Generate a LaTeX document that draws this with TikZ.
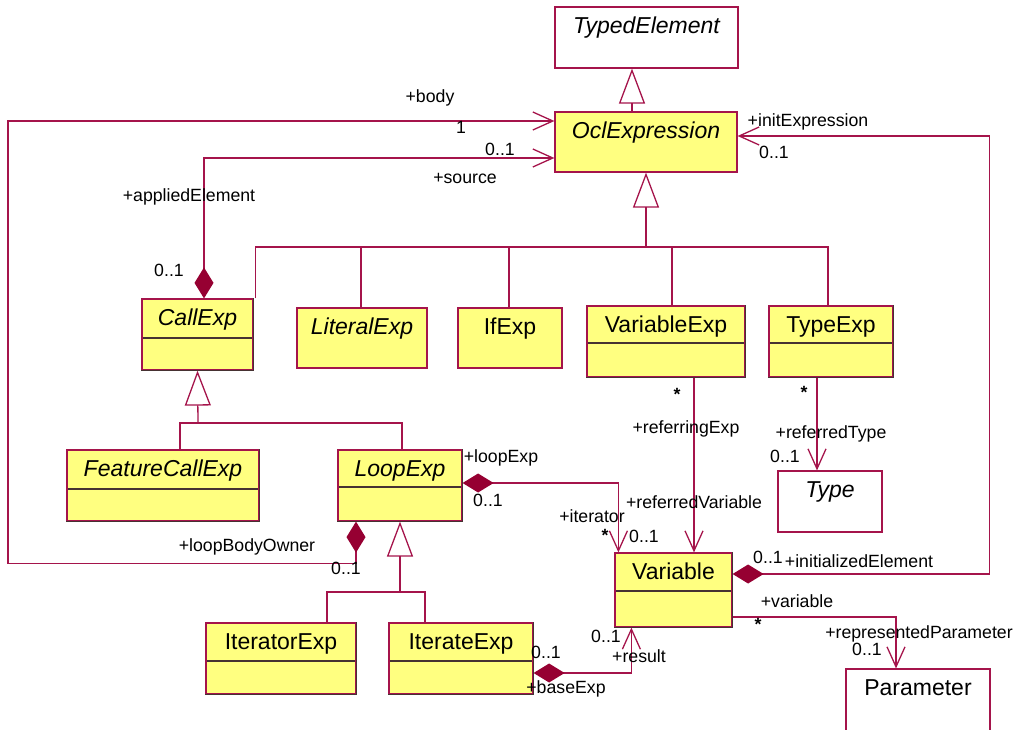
\documentclass[tikz,border=0pt]{standalone}
\usepackage{fontspec}
\setmainfont{Liberation Sans}
\usetikzlibrary{arrows.meta}
\definecolor{umlred}{RGB}{165,20,75}
\definecolor{umldark}{RGB}{150,0,50}
\definecolor{classyellow}{RGB}{255,255,128}
\definecolor{divcol}{RGB}{70,50,50}
\newcommand\clsfont{\fontsize{23}{27}\selectfont}
\newcommand\rolefont{\fontsize{17.7}{20}\selectfont}

\begin{document}
\begin{tikzpicture}[x=1pt, y=-1pt,
  cls/.style={rectangle, draw=umlred, line width=1.2pt, fill=classyellow, inner sep=0pt},
  plain/.style={fill=white},
  cmp/.style={path picture={\draw[divcol, line width=1.2pt]
      ([yshift=-#1]path picture bounding box.north west) -- ([yshift=-#1]path picture bounding box.north east);}},
  cname/.style={label={[anchor=base, yshift=-27pt, font=\clsfont]north:#1}},
  iname/.style={label={[anchor=base, yshift=-27pt, font=\clsfont\itshape]north:#1}},
  role/.style={anchor=base, inner sep=0pt, font=\rolefont},
  genline/.style={line width=1.3pt, umlred},
  gen/.style={genline, -{Triangle[open, length=35pt, width=26pt]}},
  assoc/.style={line width=1.3pt, umlred, line join=miter},
  owns/.style={assoc, {Diamond[length=31pt, width=19pt, color=umldark]}-{Straight Barb[length=20pt, width=18pt]}},
  nav/.style={assoc, -{Straight Barb[length=20pt, width=18pt]}},
  shadeedge/.style={divcol, line width=1.2pt}]
  \useasboundingbox (0,0) rectangle (1017,730);

  % classes
  \node[cls, plain, minimum width=183pt, minimum height=61pt, iname=TypedElement] (TypedElement) at (646.5,37.5) {};
  \node[cls, minimum width=182pt, minimum height=60pt, iname=OclExpression] (OclExpression) at (646,142) {};
  \node[cls, cmp=39pt, minimum width=111pt, minimum height=71pt, iname=CallExp] (CallExp) at (197.5,334.5) {};
  \node[cls, minimum width=130pt, minimum height=60pt, iname=LiteralExp] (LiteralExp) at (362,338) {};
  \node[cls, minimum width=104pt, minimum height=60pt, cname=IfExp] (IfExp) at (510,338) {};
  \node[cls, cmp=37pt, minimum width=158pt, minimum height=71pt, cname=VariableExp] (VariableExp) at (666,341.5) {};
  \node[cls, cmp=37pt, minimum width=124pt, minimum height=71pt, cname=TypeExp] (TypeExp) at (831,341.5) {};
  \node[cls, cmp=39pt, minimum width=192pt, minimum height=71pt, iname=FeatureCallExp] (FeatureCallExp) at (163,485.5) {};
  \node[cls, cmp=37pt, minimum width=124pt, minimum height=71pt, iname=LoopExp] (LoopExp) at (400,485.5) {};
  \node[cls, cmp=38pt, minimum width=150pt, minimum height=71pt, cname=IteratorExp] (IteratorExp) at (281,658.5) {};
  \node[cls, cmp=38pt, minimum width=144pt, minimum height=71pt, cname=IterateExp] (IterateExp) at (461,658.5) {};
  \node[cls, cmp=38pt, minimum width=117pt, minimum height=74pt, cname=Variable] (Variable) at (673.5,590) {};
  \node[cls, plain, minimum width=104pt, minimum height=61pt, iname=Type] (Type) at (830,501.5) {};
  \node[cls, plain, minimum width=144pt, minimum height=64pt, cname=Parameter] (Parameter) at (918,701) {};
  \foreach \c in {CallExp, VariableExp, TypeExp, FeatureCallExp, LoopExp, IteratorExp, IterateExp, Variable}
    \draw[shadeedge] (\c.north east) -- (\c.south east) -- (\c.south west);

  % generalizations
  \draw[gen] ([xshift=-14pt]OclExpression.north) -- ([xshift=-14pt]OclExpression.north |- TypedElement.south);
  \coordinate (exptree) at (646,247);
  \draw[gen] (exptree) -- (OclExpression.south);
  \draw[genline] ([xshift=2pt]CallExp.north east) |- (exptree) -| ([xshift=-3pt]TypeExp.north);
  \foreach \c/\dx in {LiteralExp/-1pt, IfExp/-1pt, VariableExp/6pt}
    \draw[genline] ([xshift=\dx]\c.north) -- ([xshift=\dx]\c.north |- exptree);
  \coordinate (calltree) at (198,423);
  \draw[gen] (calltree) -- (CallExp.south);
  \draw[genline] ([xshift=17pt]FeatureCallExp.north) |- (calltree) -| ([xshift=2pt]LoopExp.north);
  \coordinate (looptree) at (400,592);
  \draw[gen] (looptree) -- (LoopExp.south);
  \draw[genline] ([xshift=46pt]IteratorExp.north) |- (looptree) -| ([xshift=-36pt]IterateExp.north);

  % associations
  \draw[owns] ([xshift=-44pt]LoopExp.south) -- ++(0,42) -- ++(-348,0) |- ([yshift=21pt]OclExpression.west);
  \draw[owns] ([xshift=6.5pt]CallExp.north) |- ([yshift=-16pt]OclExpression.west);
  \draw[owns] ([yshift=16pt]Variable.east) -- ++(257,0) |- ([yshift=6pt]OclExpression.east);
  \draw[owns] ([yshift=2.5pt]LoopExp.east) -| ([xshift=4pt]Variable.north west);
  \draw[owns] ([yshift=-14.5pt]IterateExp.east) -| ([xshift=17pt]Variable.south west);
  \draw[nav] ([xshift=28pt]VariableExp.south) -- ([xshift=28pt]VariableExp.south |- Variable.north);
  \draw[nav] ([xshift=-14pt]TypeExp.south) -- ([xshift=-14pt]TypeExp.south |- Type.north);
  \draw[nav] ([yshift=-27pt]Variable.east) -| ([xshift=-22pt]Parameter.north);

  % role names and multiplicities
  \foreach \x/\y/\t [count=\i] in {430/103/+body, 461/134/1, 500/156/0..1, 465/184/+source,
      189/201/+appliedElement, 169/276/0..1, 808/127/+initExpression, 774/159/0..1,
      501/462/+loopExp, 488/506/0..1, 592/522/+iterator, 605/541/\textbf{*}, 644/542/0..1,
      686/433/+referringExp, 677/400/\textbf{*}, 804/398/\textbf{*}, 831/438/+referredType, 785/462/0..1,
      694/508/+referredVariable, 768/563/0..1, 859/567/+initializedElement,
      797/607/+variable, 758/630/\textbf{*}, 919/638/+representedParameter, 867/655/0..1,
      606/642/0..1, 639/662/+result, 546/658/0..1, 566/693/+baseExp,
      247/551/+loopBodyOwner, 346/574/0..1}
    \node[role] (r\i) at (\x,\y) {\t};
\end{tikzpicture}
\end{document}
